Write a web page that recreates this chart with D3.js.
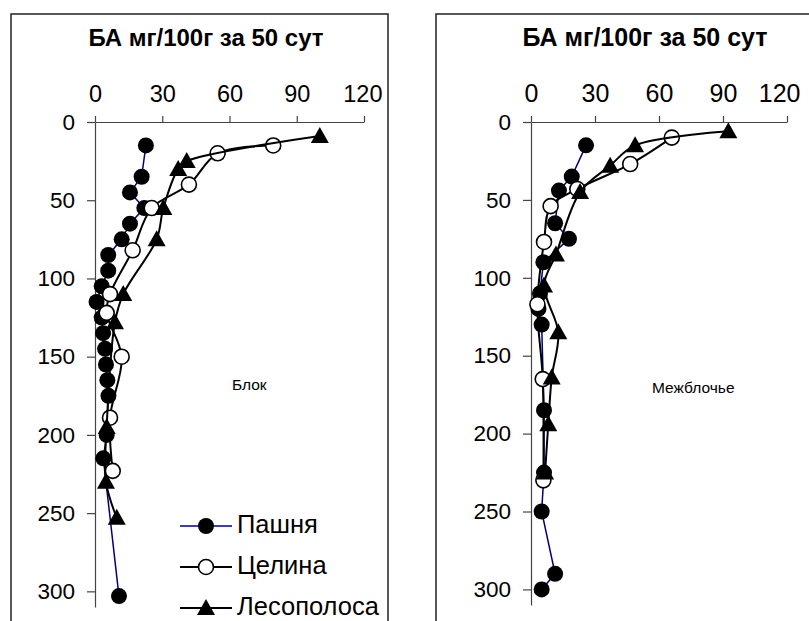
<!DOCTYPE html>
<html>
<head>
<meta charset="utf-8">
<script src="https://cdn.jsdelivr.net/npm/d3@7"></script>
<style>
  body { margin: 0; background: #fff; }
  svg { font-family: "Liberation Sans", Arial, sans-serif; }
</style>
</head>
<body>
<svg id="chart" width="809" height="621"></svg>
<script>
// Блок (left panel)
const blokPashnyaDepth = [15, 35, 45, 55, 65, 75, 85, 95, 105, 115, 125, 135, 145, 155, 165, 175, 200, 215, 303];
const blokPashnyaBA = [22.7, 20.8, 15.6, 22, 15.6, 11.9, 5.9, 5.9, 3, 0.7, 3, 3.6, 4.5, 4.9, 5.5, 6, 5.2, 3.7, 10.7];
const blokCelinaDepth = [15, 20, 40, 55, 82, 110, 122, 150, 189, 223];
const blokCelinaBA = [79.5, 54.7, 41.9, 25.3, 16.8, 6.7, 5.2, 11.9, 6.7, 7.9];
const blokLesDepth = [9, 25, 30, 55, 75, 110, 128, 195, 230, 253];
const blokLesBA = [100.3, 40.9, 37.1, 30.5, 27.5, 12.6, 8.9, 5.2, 4.9, 9.7];

// Межблочье (right panel)
const mezhPashnyaDepth = [15, 35, 44, 65, 75, 90, 110, 120, 130, 185, 225, 250, 290, 300];
const mezhPashnyaBA = [25.8, 19.1, 13.1, 11.3, 17.8, 5.8, 4.2, 3.5, 5, 6.1, 6.1, 5, 11.3, 5];
const mezhCelinaDepth = [10, 27, 43, 54, 77, 117, 165, 230];
const mezhCelinaBA = [66, 46.5, 21.7, 9.2, 6.1, 3, 5.5, 5.8];
const mezhLesDepth = [6, 15, 28, 45, 85, 105, 135, 164, 194, 225];
const mezhLesBA = [92.5, 48.8, 37.1, 23, 11.7, 6.1, 12.8, 9.7, 8.1, 6.6];

const xTicks = [0, 30, 60, 90, 120];
const yTicks = [0, 50, 100, 150, 200, 250, 300];
const seriesNames = ["Пашня", "Целина", "Лесополоса"];
const titleText = "БА мг/100г за 50 сут";

const svg = d3.select("#chart");

const zip = (depth, ba) => depth.map((d, i) => ({ depth: d, ba: ba[i] }));

// marker drawing: 0 filled circle, 1 open circle, 2 triangle
function marker(g, type, x, y) {
  if (type === 0) {
    g.append("circle").attr("cx", x).attr("cy", y).attr("r", 8).attr("fill", "#000");
  } else if (type === 1) {
    g.append("circle").attr("cx", x).attr("cy", y).attr("r", 7.5)
      .attr("fill", "#fff").attr("stroke", "#000").attr("stroke-width", 1.6);
  } else {
    g.append("path")
      .attr("d", `M${x},${y - 9} L${x + 9},${y + 7} L${x - 9},${y + 7} Z`)
      .attr("fill", "#000");
  }
}

function panel(cfg) {
  const { frame, xRange, yRange, series, label, title, xFont, lastLabelEnd, legend } = cfg;
  const g = svg.append("g");

  // frame
  g.append("rect")
    .attr("x", frame[0]).attr("y", 14)
    .attr("width", frame[1] - frame[0]).attr("height", 640)
    .attr("fill", "none").attr("stroke", "#222").attr("stroke-width", 1.5);

  const x = d3.scaleLinear().domain([0, 120]).range(xRange);
  const y = d3.scaleLinear().domain([0, 310]).range(yRange);

  // title
  g.append("text")
    .attr("x", title.x).attr("y", 46)
    .attr("text-anchor", "middle")
    .attr("font-size", title.size).attr("font-weight", "bold")
    .text(titleText);

  // axes
  const xAxis = g.append("g")
    .attr("transform", `translate(0,${yRange[0]})`)
    .call(d3.axisTop(x).tickValues(xTicks).tickSize(6).tickSizeOuter(0).tickPadding(14));
  const yAxis = g.append("g")
    .attr("transform", `translate(${xRange[0]},0)`)
    .call(d3.axisLeft(y).tickValues(yTicks).tickSize(8).tickSizeOuter(0).tickPadding(12));
  xAxis.attr("font-size", xFont);
  yAxis.attr("font-size", 22.5);
  [xAxis, yAxis].forEach((a) => {
    a.attr("font-family", null);
    a.selectAll("path, line").attr("stroke", "#444").attr("stroke-width", 1.2);
    a.selectAll("text").attr("fill", "#000");
  });
  // last x label is pulled inside the frame
  xAxis.selectAll(".tick").filter((d) => d === 120).select("text")
    .attr("text-anchor", "end")
    .attr("x", lastLabelEnd - x(120));

  // lines
  const lineNavy = d3.line().x((d) => x(d.ba)).y((d) => y(d.depth));
  const lineSmooth = d3.line().x((d) => x(d.ba)).y((d) => y(d.depth)).curve(d3.curveCatmullRom.alpha(0.5));

  series.forEach((s, i) => {
    g.append("path")
      .datum(s)
      .attr("d", i === 0 ? lineNavy : lineSmooth)
      .attr("fill", "none")
      .attr("stroke", i === 0 ? "#000080" : "#000")
      .attr("stroke-width", i === 0 ? 1.5 : 2);
    const mg = g.append("g");
    s.forEach((d) => marker(mg, i, x(d.ba), y(d.depth)));
  });

  // panel label
  g.append("text")
    .attr("x", label.x).attr("y", label.y)
    .attr("font-size", 15.5)
    .attr("dominant-baseline", "middle")
    .text(label.text);

  if (legend) {
    const rows = [526, 567, 608];
    seriesNames.forEach((name, i) => {
      const lg = g.append("g");
      lg.append("line")
        .attr("x1", 180).attr("x2", 232).attr("y1", rows[i]).attr("y2", rows[i])
        .attr("stroke", i === 0 ? "#000080" : "#000").attr("stroke-width", i === 0 ? 1.5 : 2);
      marker(lg, i, 206, rows[i]);
      lg.append("text")
        .attr("x", 237).attr("y", rows[i])
        .attr("dominant-baseline", "middle")
        .attr("font-size", 25.5)
        .text(name);
    });
  }
}

panel({
  frame: [11, 388],
  xRange: [95, 364],
  yRange: [122, 607],
  title: { x: 206, size: 24 },
  xFont: 23.5,
  lastLabelEnd: 382,
  series: [
    zip(blokPashnyaDepth, blokPashnyaBA),
    zip(blokCelinaDepth, blokCelinaBA),
    zip(blokLesDepth, blokLesBA)
  ],
  label: { text: "Блок", x: 232, y: 386 },
  legend: true
});

panel({
  frame: [436, 1000],
  xRange: [531, 787],
  yRange: [122, 605],
  title: { x: 645, size: 25 },
  xFont: 25,
  lastLabelEnd: 800,
  series: [
    zip(mezhPashnyaDepth, mezhPashnyaBA),
    zip(mezhCelinaDepth, mezhCelinaBA),
    zip(mezhLesDepth, mezhLesBA)
  ],
  label: { text: "Межблочье", x: 652, y: 389 },
  legend: false
});
</script>
</body>
</html>
